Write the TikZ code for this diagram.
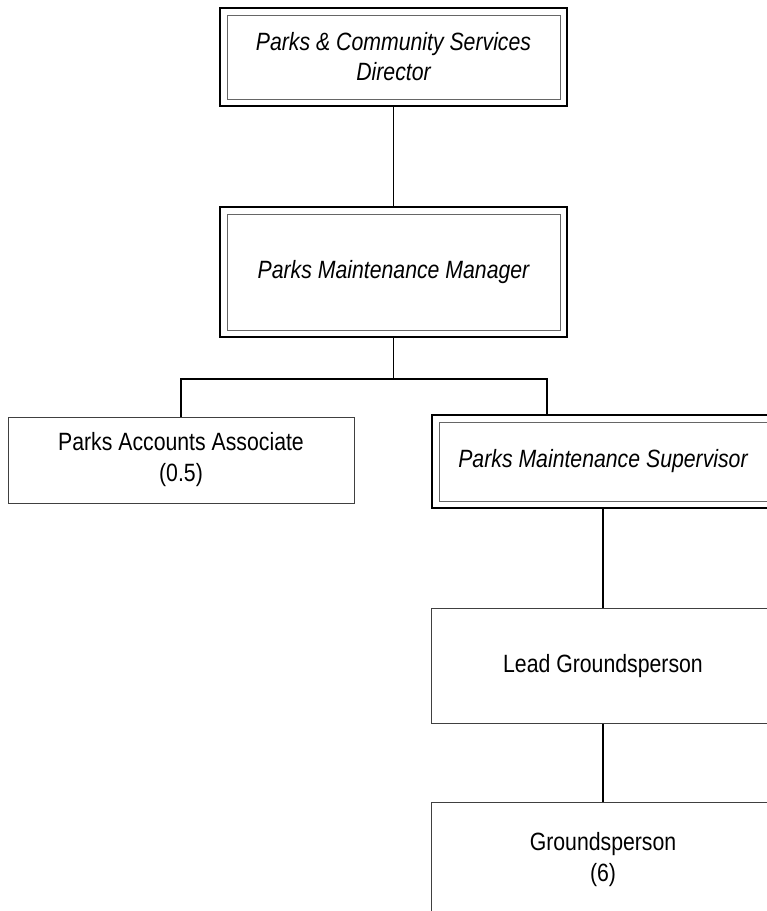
\documentclass[tikz,border=0pt]{standalone}
\usepackage{fontspec}
\setmainfont[FakeStretch=0.85]{Liberation Sans}
\usepackage{tikz}
\usetikzlibrary{positioning}

\tikzset{
  post/.style={draw=black!75, line width=0.9pt, align=center, inner sep=0pt,
    font=\fontsize{25}{31}\selectfont},
  headpost/.style={post, draw=black, line width=2pt, font=\fontsize{25}{30}\selectfont\itshape},
  innerline/.style={draw=black!60, line width=0.9pt},
  link/.style={line width=1.6pt}
}

\begin{document}
\begin{tikzpicture}[x=1pt, y=-1pt]
        \useasboundingbox (0,0) rectangle (767,911);
        \clip (0,0) rectangle (767,911);

        \node[headpost, minimum width=347pt, minimum height=98pt] (dir) at (393.5,57) {Parks \& Community Services\\Director};
        \node[headpost, minimum width=347pt, minimum height=130pt] (mgr) [below = 99pt of dir] {Parks Maintenance Manager};
        \node[post, minimum width=346pt, minimum height=86pt] (acct) at (181,460) {Parks Accounts Associate\\(0.5)};
        \node[headpost, minimum width=342pt, minimum height=93pt] (sup) at (603,461.5) {Parks Maintenance Supervisor};
        \node[post, minimum width=344pt, minimum height=115pt] (lead) [below = 99pt of sup] {Lead Groundsperson};
        \node[post, minimum width=344pt, minimum height=114pt] (gp) [below = 78pt of lead] {Groundsperson\\(6)};
        \coordinate (bus) at (393.5,379);

        % inner frames of the double boxes
        \foreach \n in {dir,mgr,sup}
            \draw[innerline] ([shift={(8pt,-8pt)}]\n.north west) rectangle ([shift={(-8pt,8pt)}]\n.south east);

        \draw[link] (dir.south) -- (mgr.north);
        \draw[link] (mgr.south) -- (bus);
        \draw[link] (acct.north) |- (bus) -| ([xshift=-56pt]sup.north);
        \draw[line width=1.2pt] (sup.south) -- (lead.north);
        \draw[link] (lead.south) -- (gp.north);
    \end{tikzpicture}
\end{document}
